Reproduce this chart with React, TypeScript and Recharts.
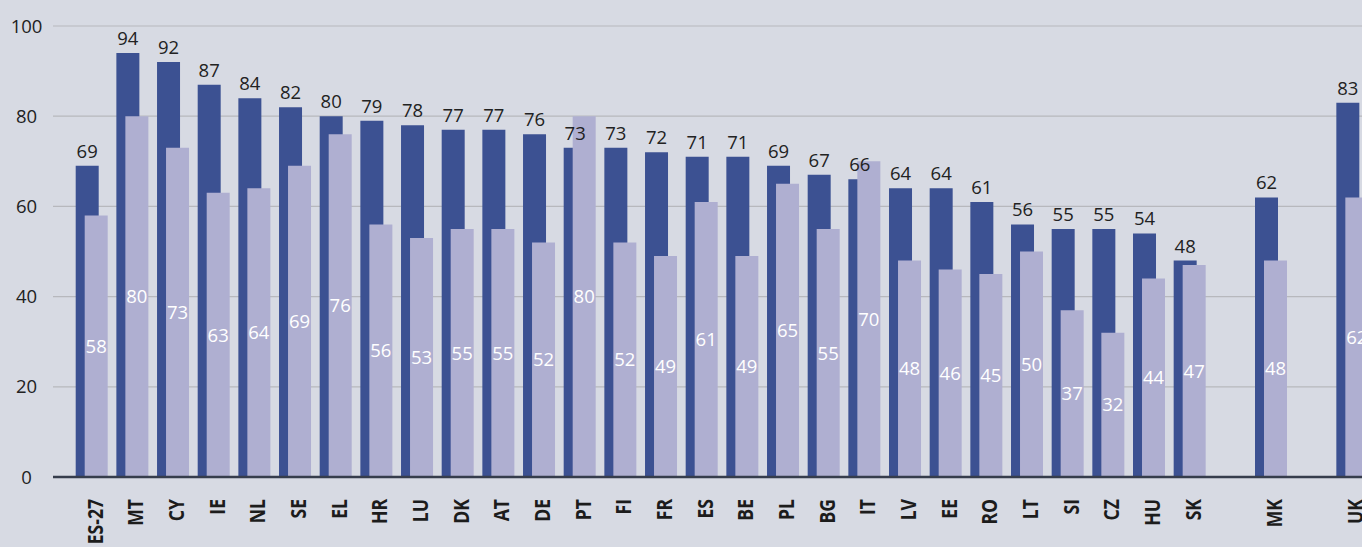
import React from "react";
import {
  BarChart,
  Bar,
  XAxis,
  YAxis,
  CartesianGrid,
  LabelList,
} from "recharts";

// blank names keep the gaps before MK and UK
const countries = [
  "ES-27", "MT", "CY", "IE", "NL", "SE", "EL", "HR", "LU", "DK", "AT", "DE",
  "PT", "FI", "FR", "ES", "BE", "PL", "BG", "IT", "LV", "EE", "RO", "LT",
  "SI", "CZ", "HU", "SK", "", "MK", "", "UK",
];

const darkValues = [
  69, 94, 92, 87, 84, 82, 80, 79, 78, 77, 77, 76,
  73, 73, 72, 71, 71, 69, 67, 66, 64, 64, 61, 56,
  55, 55, 54, 48, null, 62, null, 83,
];

const lightValues = [
  58, 80, 73, 63, 64, 69, 76, 56, 53, 55, 55, 52,
  80, 52, 49, 61, 49, 65, 55, 70, 48, 46, 45, 50,
  37, 32, 44, 47, null, 48, null, 62,
];

const yTicks = [0, 20, 40, 60, 80, 100];

const data = countries.map((name, i) => ({
  name,
  dark: darkValues[i],
  light: lightValues[i],
}));

const FONT = "'Open Sans', 'Noto Sans', sans-serif";
const BG = "#d7dae3";
const DARK = "#3c5192";
const LIGHT = "#afafd1";

const XTick = (props: any) => {
  const { x, y, payload } = props;
  if (!payload.value) return null;
  return (
    <g transform={`translate(${x + 2.5},${y + 14}) rotate(-90)`}>
      <text
        transform="scale(0.8,1)"
        textAnchor="end"
        dominantBaseline="central"
        fontSize={22}
        fontWeight="bold"
        fill="#1c1c1c"
        fontFamily={FONT}
      >
        {payload.value}
      </text>
    </g>
  );
};

const YTick = (props: any) => {
  const { x, y, payload } = props;
  return (
    <text
      x={x - 18.5}
      y={y - 1}
      textAnchor="middle"
      dominantBaseline="central"
      fontSize={18.5}
      fill="#222"
      fontFamily={FONT}
    >
      {payload.value}
    </text>
  );
};

export default function App() {
  return (
    <div
      style={{
        position: "fixed",
        left: 0,
        top: 0,
        width: 1362,
        height: 547,
        overflow: "hidden",
        background: BG,
      }}
    >
      <BarChart
        width={1373}
        height={547}
        data={data}
        margin={{ top: 26, right: 0, bottom: 0, left: 0 }}
        barSize={23}
        barGap={-14}
      >
        <CartesianGrid vertical={false} stroke="#b7b8bd" strokeWidth={1.2} />
        <XAxis
          dataKey="name"
          height={70}
          interval={0}
          padding={{ left: 18.7, right: 0 }}
          tickLine={false}
          axisLine={{ stroke: "#363d4c", strokeWidth: 2.5 }}
          tick={<XTick />}
        />
        <YAxis
          width={53}
          domain={[0, 100]}
          ticks={yTicks}
          tickLine={false}
          axisLine={false}
          tick={<YTick />}
        />
        <Bar dataKey="dark" fill={DARK} isAnimationActive={false}>
          <LabelList
            dataKey="dark"
            position="top"
            offset={8}
            fill="#222"
            fontSize={18.5}
            fontFamily={FONT}
          />
        </Bar>
        <Bar dataKey="light" fill={LIGHT} isAnimationActive={false}>
          <LabelList
            dataKey="light"
            position="center"
            fill="#ffffff"
            fontSize={18.5}
            fontFamily={FONT}
          />
        </Bar>
      </BarChart>
    </div>
  );
}
